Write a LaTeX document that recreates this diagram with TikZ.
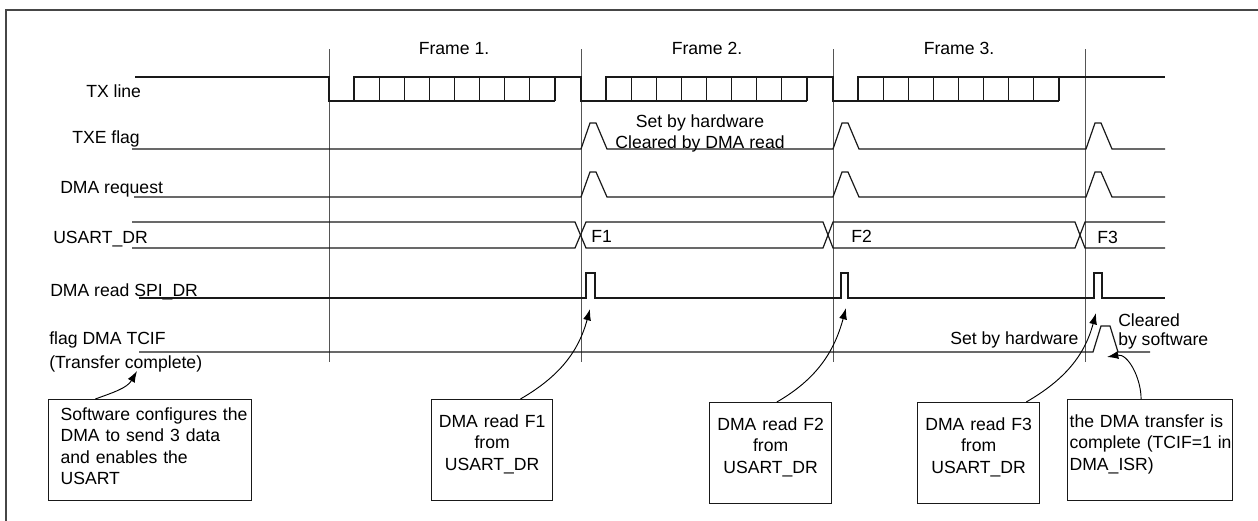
\documentclass[tikz,border=0pt]{standalone}
\usepackage{fontspec}
\setmainfont{Liberation Sans}
\usepackage{xcolor}
\usepackage{tikz}
\usetikzlibrary{arrows.meta}
\definecolor{sigblack}{RGB}{25,25,25}
\definecolor{framegray}{RGB}{70,70,70}
\definecolor{markgray}{RGB}{85,85,85}
\newcommand{\diagfont}{\fontsize{13.2pt}{16pt}\selectfont}
\newcommand{\ind}{\hspace*{9pt}}

\begin{document}
\begin{tikzpicture}[
  x=0.75pt,y=-0.75pt,
  signal/.style={draw=sigblack,line width=0.9pt,line join=miter},
  marker/.style={draw=markgray,line width=0.7pt},
  lbl/.style={font=\diagfont,inner sep=0pt},
  note/.style={rectangle,draw=sigblack,line width=0.9pt,font=\diagfont,
               anchor=north west,inner xsep=0pt,inner ysep=0pt,
               text height=21pt,text depth=54.75pt,align=center},
  arrow/.style={-{Latex[length=8.5pt,width=6pt]},draw=black,line width=0.7pt}
]
\useasboundingbox (0,0) rectangle (1258,521);
\draw[draw=framegray,line width=1.4pt] (6,521) -- (6,10) -- (1258,10);

\draw[marker] (329,49) -- (329,362);
\draw[marker] (581,49) -- (581,362);
\draw[marker] (833,49) -- (833,362);
\draw[marker] (1085,49) -- (1085,362);

\node[lbl,anchor=base] (fr1) at (454,55) {Frame 1.};
\node[lbl,anchor=base] (fr2) at (707,55) {Frame 2.};
\node[lbl,anchor=base] (fr3) at (959,55) {Frame 3.};

\node[lbl,anchor=base west] (txl) at (86,97) {TX line};
\node[lbl,anchor=base west] (txe) at (72,143) {TXE flag};
\node[lbl,anchor=base west] (req) at (60,193) {DMA request};
\node[lbl,anchor=base west] (udr) at (53,243) {USART\_DR};
\node[lbl,anchor=base west] (rdl) at (50,296) {DMA read SPI\_DR};
\node[lbl,anchor=north west,align=left] (tcf) at (49,331) {flag DMA TCIF\\[2pt](Transfer complete)};

\draw[signal] (135,77) -- (329,77) -- (329,101) -- (354,101) -- (354,77) -- (581,77) -- (581,101)
  -- (606,101) -- (606,77) -- (833,77) -- (833,101) -- (858,101) -- (858,77) -- (1165,77);
\foreach \s in {354,606,858} {
  \draw[signal] (\s,101) -- (\s+201,101);
  \foreach \k in {1,...,8}
    \draw[signal] (\s+25.125*\k,77) -- (\s+25.125*\k,101);
}

\draw[signal] (132,149) -- (581,149) -- (590,123) -- (596,123) -- (607,149) -- (833,149) -- (842,123)
  -- (848,123) -- (859,149) -- (1086,149) -- (1095,123) -- (1101,123) -- (1112,149) -- (1165,149);
\node[lbl,anchor=north,align=center] (txenote) at (700,114.5) {Set by hardware\\Cleared by DMA read};

\draw[signal] (134,197) -- (581,197) -- (590,172) -- (596,172) -- (607,197) -- (833,197) -- (842,172)
  -- (848,172) -- (859,197) -- (1086,197) -- (1095,172) -- (1101,172) -- (1112,197) -- (1165,197);

\draw[signal] (132,222) -- (575,222) -- (586,248) -- (823,248) -- (833,222) -- (1075,222) -- (1085,248) -- (1165,248);
\draw[signal] (132,248) -- (575,248) -- (586,222) -- (823,222) -- (833,248) -- (1075,248) -- (1085,222) -- (1165,222);
\node[lbl,anchor=base west] (d1) at (591,242) {F1};
\node[lbl,anchor=base west] (d2) at (851,242) {F2};
\node[lbl,anchor=base west] (d3) at (1097,243) {F3};

\draw[signal] (139,298) -- (586,298) -- (586,273) -- (595,273) -- (595,298) -- (841,298) -- (841,273)
  -- (848,273) -- (848,298) -- (1094,298) -- (1094,273) -- (1102,273) -- (1102,298) -- (1165,298);

\draw[signal] (139,352) -- (1093,352) -- (1101,326) -- (1110,326) -- (1118,352) -- (1150,352);
\node[lbl,anchor=base west] (sethw) at (950,344) {Set by hardware};
\node[lbl,anchor=north west,align=left] (clrsw) at (1118,313) {Cleared\\[-1.4pt]by software};

\node[note,text width=152.25pt,align=left,text height=15.75pt,text depth=60pt] (sw) at (48,399)
  {\ind Software configures the\\\ind DMA to send 3 data\\\ind and enables the\\\ind USART};
\node[note,text width=90.75pt] (f1) at (431,399) {DMA read F1\\from\\USART\_DR};
\node[note,text width=91.5pt] (f2) at (709,402) {DMA read F2\\from\\USART\_DR};
\node[note,text width=91.5pt] (f3) at (917,402) {DMA read F3\\from\\USART\_DR};
\node[note,text width=123.75pt,align=left] (tc) at (1067,399)
  {\hspace*{1.5pt}the DMA transfer is\\\hspace*{1.5pt}complete (TCIF=1 in\\\hspace*{1.5pt}DMA\_ISR)};

\coordinate (tcifpt) at (137,371);
\coordinate (rd1) at (590,309);
\coordinate (rd2) at (846,308);
\coordinate (rd3) at (1096,313);
\coordinate (clr) at (1107,357);
\draw[arrow] (sw.137) to[out=20,in=-120] (tcifpt);
\draw[arrow] (f1.61) to[out=30,in=-105] (rd1);
\draw[arrow] (f2.83) to[out=30,in=-105] (rd2);
\draw[arrow] (f3.47) to[out=30,in=-105] (rd3);
\draw[arrow] (tc.100) to[out=90,in=10] (clr);
\end{tikzpicture}
\end{document}
